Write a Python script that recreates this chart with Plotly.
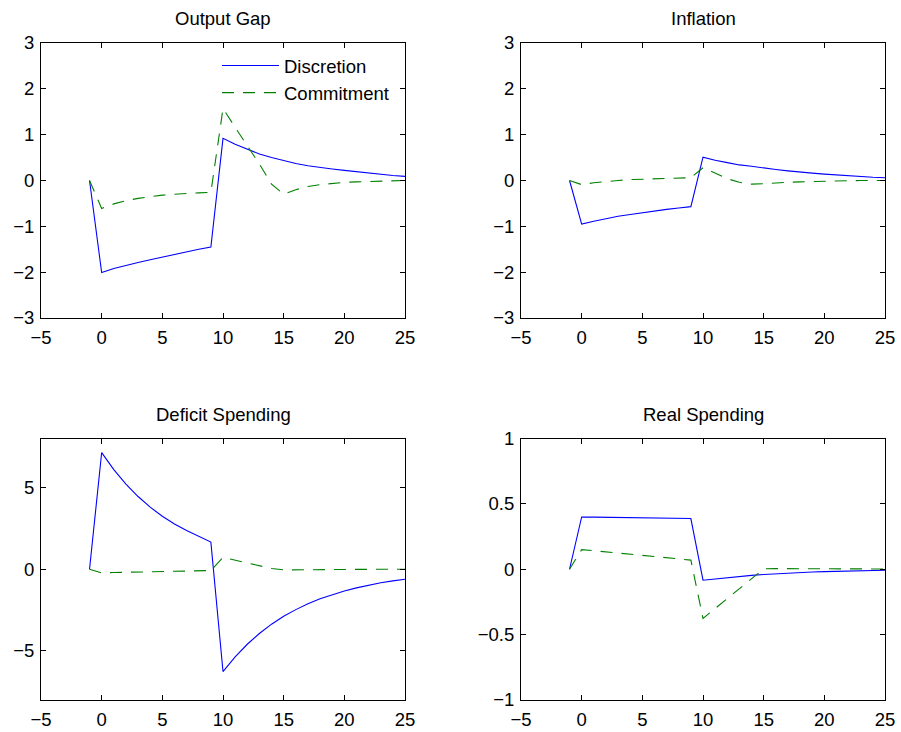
import plotly.graph_objects as go

periods = list(range(-1, 26))

titles = ["Output Gap", "Inflation", "Deficit Spending", "Real Spending"]
series_names = ["Discretion", "Commitment"]
x_ticks = [-5, 0, 5, 10, 15, 20, 25]

output_gap_discretion = [0, -2.01, -1.92, -1.85, -1.79, -1.73, -1.67, -1.61, -1.56, -1.50, -1.45,
                         0.92, 0.79, 0.68, 0.58, 0.50, 0.43, 0.37, 0.32, 0.28, 0.25, 0.22,
                         0.19, 0.16, 0.13, 0.11, 0.09]
output_gap_commitment = [0, -0.61, -0.51, -0.44, -0.39, -0.35, -0.32, -0.30, -0.28, -0.27, -0.26,
                         1.57, 1.16, 0.76, 0.36, -0.08, -0.30, -0.20, -0.13, -0.09, -0.06, -0.04,
                         -0.03, -0.02, -0.01, -0.01, 0.0]

inflation_discretion = [0, -0.95, -0.89, -0.83, -0.78, -0.74, -0.70, -0.66, -0.63, -0.60, -0.57,
                        0.51, 0.44, 0.39, 0.34, 0.31, 0.27, 0.24, 0.21, 0.18, 0.16, 0.14,
                        0.12, 0.10, 0.08, 0.07, 0.06]
inflation_commitment = [0, -0.09, -0.05, -0.02, 0.0, 0.02, 0.03, 0.04, 0.05, 0.05, 0.06,
                        0.28, 0.16, 0.04, -0.04, -0.08, -0.07, -0.05, -0.04, -0.03, -0.02, -0.01,
                        -0.01, -0.005, 0.0, 0.0, 0.0]

deficit_discretion = [0, 7.14, 6.10, 5.21, 4.45, 3.80, 3.24, 2.77, 2.37, 2.02, 1.66,
                      -6.26, -5.36, -4.59, -3.93, -3.36, -2.88, -2.47, -2.11, -1.81, -1.55, -1.33,
                      -1.14, -0.97, -0.83, -0.71, -0.61]
deficit_commitment = [0, -0.22, -0.20, -0.18, -0.16, -0.15, -0.13, -0.12, -0.11, -0.10, -0.08,
                      0.72, 0.55, 0.40, 0.24, 0.05, -0.04, -0.03, -0.02, -0.02, -0.01, -0.01,
                      -0.01, 0.0, 0.0, 0.0, 0.0]

real_discretion = [0, 0.400, 0.399, 0.398, 0.397, 0.396, 0.394, 0.393, 0.391, 0.390, 0.388,
                   -0.084, -0.074, -0.064, -0.055, -0.047, -0.040, -0.034, -0.029, -0.025, -0.021, -0.018,
                   -0.015, -0.013, -0.011, -0.009, -0.008]
real_commitment = [0, 0.150, 0.142, 0.133, 0.124, 0.115, 0.106, 0.097, 0.088, 0.079, 0.070,
                   -0.376, -0.300, -0.225, -0.150, -0.075, 0.003, 0.005, 0.005, 0.005, 0.004, 0.004,
                   0.003, 0.003, 0.002, 0.002, 0.002]

y_ranges = [[-3, 3], [-3, 3], [-8, 8], [-1, 1]]
y_ticks = [[-3, -2, -1, 0, 1, 2, 3], [-3, -2, -1, 0, 1, 2, 3], [-5, 0, 5], [-1, -0.5, 0, 0.5, 1]]

panels = [
    (output_gap_discretion, output_gap_commitment),
    (inflation_discretion, inflation_commitment),
    (deficit_discretion, deficit_commitment),
    (real_discretion, real_commitment),
]

W, H = 901, 732


def px_x(p):
    return p / W


def px_y(p):
    return (H - p) / H


x_doms = [[px_x(41), px_x(405)], [px_x(521), px_x(885)]]
y_doms = [[px_y(318), px_y(43)], [px_y(700), px_y(438.5)]]

FONT = "Liberation Sans, Arial, Helvetica, sans-serif"
FS = 18.5
BLUE = "#0000ff"
GREEN = "#008000"

fig = go.Figure()

for i, (disc, comm) in enumerate(panels):
    suffix = "" if i == 0 else str(i + 1)
    fig.add_trace(go.Scatter(
        x=periods, y=disc, mode="lines", name=series_names[0],
        line=dict(color=BLUE, width=1.1),
        xaxis="x" + suffix, yaxis="y" + suffix, showlegend=(i == 0)))
    fig.add_trace(go.Scatter(
        x=periods, y=comm, mode="lines", name=series_names[1],
        line=dict(color=GREEN, width=1.1, dash="12px,9px"),
        xaxis="x" + suffix, yaxis="y" + suffix, showlegend=(i == 0)))

layout = dict(
    width=W, height=H,
    margin=dict(l=0, r=0, t=0, b=0, pad=0, autoexpand=False),
    paper_bgcolor="white", plot_bgcolor="white",
    font=dict(family=FONT, size=FS, color="black"),
    showlegend=True,
    legend=dict(x=px_x(217), y=px_y(47), xanchor="left", yanchor="top",
                itemwidth=57,
                bgcolor="rgba(0,0,0,0)", borderwidth=0,
                font=dict(family=FONT, size=FS, color="black")),
    annotations=[],
)

axis_common = dict(showgrid=False, zeroline=False, showline=True, linecolor="black",
                   linewidth=1, mirror="ticks", ticks="inside", ticklen=5,
                   tickcolor="black", tickwidth=1, automargin=False,
                   ticklabeloverflow="allow",
                   tickfont=dict(family=FONT, size=FS, color="black"))

for i in range(4):
    suffix = "" if i == 0 else str(i + 1)
    col = i % 2
    row = i // 2
    layout["xaxis" + suffix] = dict(axis_common, domain=x_doms[col], range=[-5, 25],
                                    tickmode="array", tickvals=x_ticks,
                                    ticklabelstandoff=3,
                                    anchor="y" + suffix)
    layout["yaxis" + suffix] = dict(axis_common, domain=y_doms[row], range=y_ranges[i],
                                    tickmode="array", tickvals=y_ticks[i],
                                    ticklabelstandoff=2,
                                    anchor="x" + suffix)
    cx = (x_doms[col][0] + x_doms[col][1]) / 2
    layout["annotations"].append(dict(
        text=titles[i], x=cx, y=y_doms[row][1], xref="paper", yref="paper",
        xanchor="center", yanchor="bottom", yshift=12, showarrow=False,
        font=dict(family=FONT, size=FS, color="black")))

fig.update_layout(**layout)
fig.write_html("out.html",
               config={"displayModeBar": False},
               post_script="document.body.style.margin='0';document.body.style.overflow='hidden';")
